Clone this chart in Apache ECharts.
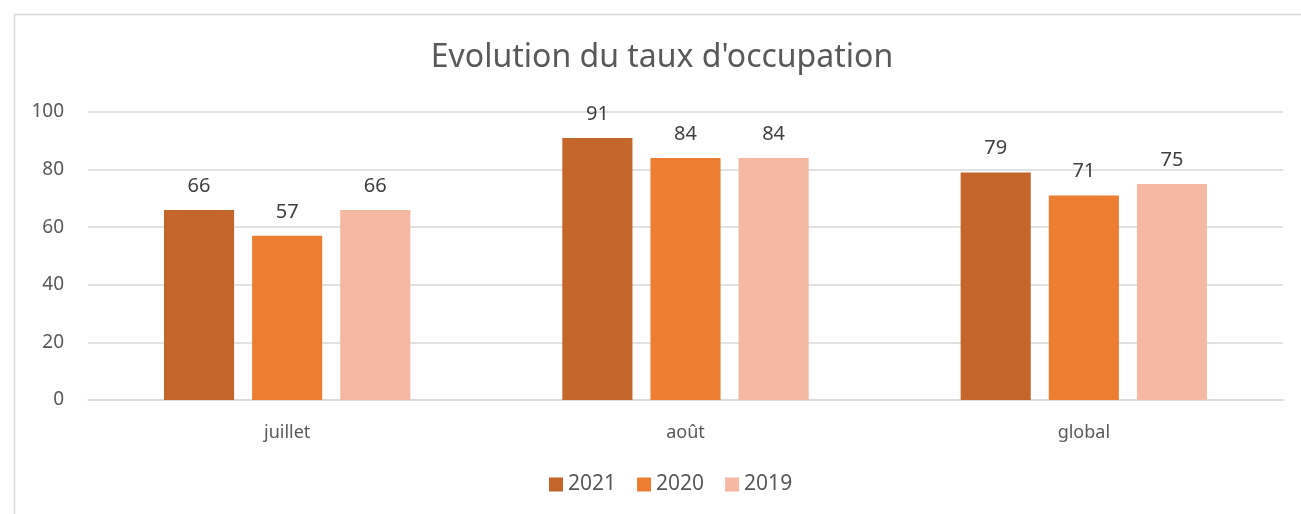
<!DOCTYPE html>
<html><head><meta charset="utf-8">
<script src="https://cdn.jsdelivr.net/npm/echarts@6/dist/echarts.min.js"></script>
<style>html,body{margin:0;padding:0;background:#fff}#c{width:1301px;height:514px}</style>
</head><body><div id="c"></div>
<script>
const categories = ['juillet', 'août', 'global'];
const seriesNames = ['2021', '2020', '2019'];
const values2021 = [66, 91, 79];
const values2020 = [57, 84, 71];
const values2019 = [66, 84, 75];
const yTicks = [0, 20, 40, 60, 80, 100];
const colors = ['#C4652A', '#ED7D31', '#F4B8A3'];
const font = '"Noto Sans", sans-serif';

const chart = echarts.init(document.getElementById('c'));
const data = [values2021, values2020, values2019];
chart.setOption({
  animation: false,
  textStyle: { fontFamily: font },
  graphic: [
    { type: 'rect', left: 12, top: 12, shape: { width: 1300, height: 510 }, style: { fill: 'none', stroke: '#d9d9d9', lineWidth: 1.5 }, silent: true },
    { type: 'text', x: 662, y: 58, style: { text: 'Evolution du taux d\'occupation', x: 0, y: 0, align: 'center', verticalAlign: 'middle',
      font: 'normal 32px "Noto Sans", sans-serif', fill: '#595959' }, silent: true }
  ],
  legend: { bottom: 14, left: 544, itemWidth: 14, itemHeight: 14, itemGap: 21, icon: 'rect',
    textStyle: { fontFamily: font, fontSize: 21, color: '#595959' }, data: seriesNames },
  grid: { left: 88, right: 18, top: 112, bottom: 114, containLabel: false },
  xAxis: { type: 'category', data: categories,
    axisLine: { lineStyle: { color: '#d9d9d9', width: 1.5 } }, axisTick: { show: false },
    axisLabel: { fontFamily: font, fontSize: 18, color: '#595959', margin: 24 } },
  yAxis: { type: 'value', min: yTicks[0], max: yTicks[yTicks.length - 1], interval: 20,
    axisLine: { show: false }, axisTick: { show: false },
    splitLine: { lineStyle: { color: '#d9d9d9', width: 1.5 } },
    axisLabel: { fontFamily: font, fontSize: 19, color: '#595959', margin: 24 } },
  series: seriesNames.map((n, i) => ({
    name: n, type: 'bar', data: data[i], barWidth: '17.6%', barGap: '25.7%',
    itemStyle: { color: colors[i] },
    label: { show: true, position: 'top', distance: 14, fontFamily: font, fontSize: 20, color: '#404040' }
  }))
});
</script></body></html>
